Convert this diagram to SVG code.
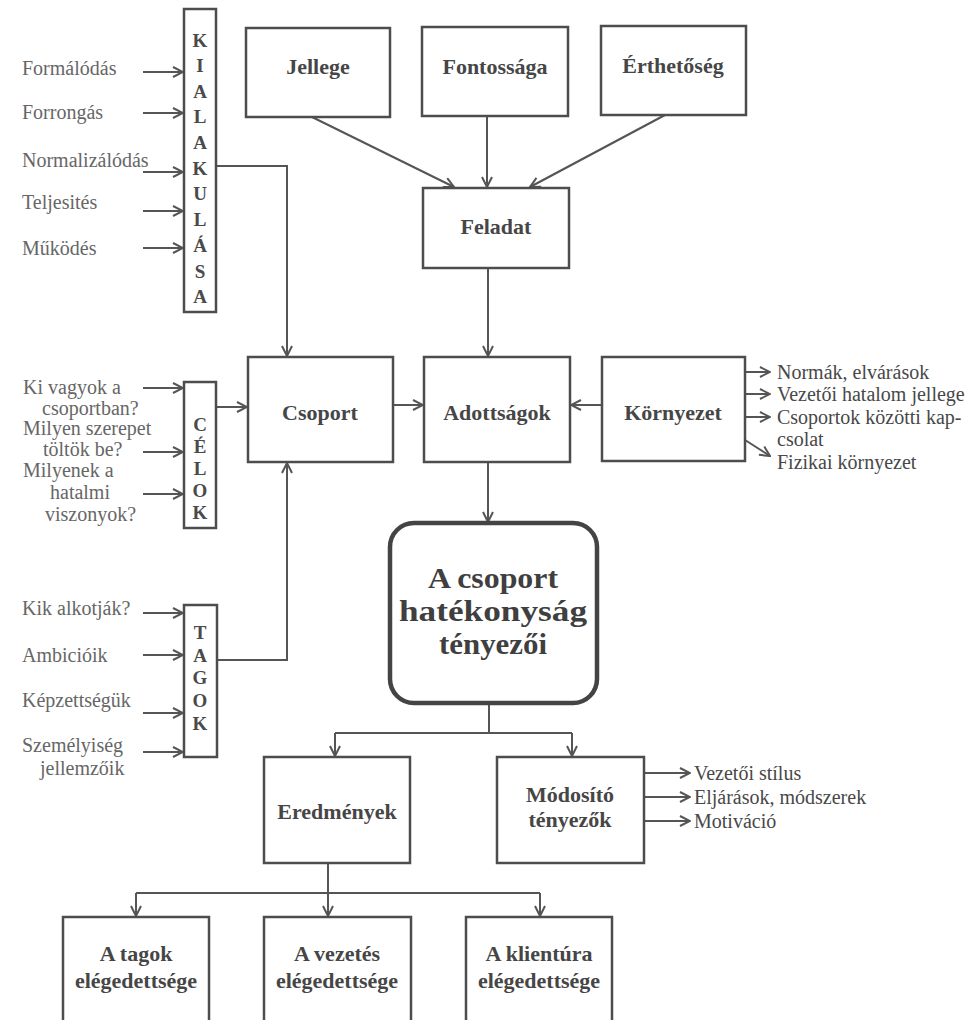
<svg xmlns="http://www.w3.org/2000/svg" width="978" height="1020" viewBox="0 0 978 1020">
<defs>
<style>
.box{fill:none;stroke:#4d4d4d;stroke-width:2.5}
.big{fill:none;stroke:#444;stroke-width:4.5}
.ln{fill:none;stroke:#555;stroke-width:2}
.b{font-family:"Liberation Serif",serif;font-weight:bold;font-size:22px;fill:#464646;text-anchor:middle}
.bb{font-family:"Liberation Serif",serif;font-weight:bold;font-size:29px;fill:#3f3f3f;text-anchor:middle}
.v{font-family:"Liberation Serif",serif;font-weight:bold;font-size:19px;fill:#4a4a4a;text-anchor:middle}
.t{font-family:"Liberation Serif",serif;font-size:20px;fill:#666}
.r{font-family:"Liberation Serif",serif;font-size:20px;fill:#484848}
</style>
<marker id="ah" viewBox="0 0 12 12" refX="11" refY="6" markerWidth="12" markerHeight="12" markerUnits="userSpaceOnUse" orient="auto">
<path d="M1,1 L11,6 L1,11" fill="none" stroke="#555" stroke-width="2"/>
</marker>
</defs>
<rect width="978" height="1020" fill="#fff"/>

<g id="connectors">
<line class="ln" x1="143" y1="72" x2="183" y2="72" marker-end="url(#ah)"/>
<line class="ln" x1="143" y1="113" x2="183" y2="113" marker-end="url(#ah)"/>
<line class="ln" x1="143" y1="172" x2="183" y2="172" marker-end="url(#ah)"/>
<line class="ln" x1="143" y1="211" x2="183" y2="211" marker-end="url(#ah)"/>
<line class="ln" x1="143" y1="248" x2="183" y2="248" marker-end="url(#ah)"/>
<line class="ln" x1="143" y1="388" x2="183" y2="388" marker-end="url(#ah)"/>
<line class="ln" x1="143" y1="452" x2="183" y2="452" marker-end="url(#ah)"/>
<line class="ln" x1="143" y1="494" x2="183" y2="494" marker-end="url(#ah)"/>
<line class="ln" x1="143" y1="613" x2="183" y2="613" marker-end="url(#ah)"/>
<line class="ln" x1="143" y1="655" x2="183" y2="655" marker-end="url(#ah)"/>
<line class="ln" x1="143" y1="713" x2="183" y2="713" marker-end="url(#ah)"/>
<line class="ln" x1="143" y1="752" x2="183" y2="752" marker-end="url(#ah)"/>
<polyline class="ln" points="216,166 287,166 287,356" marker-end="url(#ah)"/>
<line class="ln" x1="216" y1="407" x2="247" y2="407" marker-end="url(#ah)"/>
<polyline class="ln" points="217,660 287,660 287,463" marker-end="url(#ah)"/>
<line class="ln" x1="312" y1="117" x2="454" y2="187" marker-end="url(#ah)"/>
<line class="ln" x1="487" y1="116" x2="487" y2="187" marker-end="url(#ah)"/>
<line class="ln" x1="665" y1="115" x2="530" y2="187" marker-end="url(#ah)"/>
<line class="ln" x1="488" y1="268" x2="488" y2="356" marker-end="url(#ah)"/>
<line class="ln" x1="393" y1="405" x2="423" y2="405" marker-end="url(#ah)"/>
<line class="ln" x1="602" y1="405" x2="571" y2="405" marker-end="url(#ah)"/>
<line class="ln" x1="488" y1="462" x2="488" y2="522" marker-end="url(#ah)"/>
<line class="ln" x1="745" y1="372" x2="770" y2="372" marker-end="url(#ah)"/>
<line class="ln" x1="745" y1="394" x2="770" y2="394" marker-end="url(#ah)"/>
<line class="ln" x1="745" y1="417" x2="770" y2="417" marker-end="url(#ah)"/>
<line class="ln" x1="745" y1="440" x2="770" y2="456" marker-end="url(#ah)"/>
<line class="ln" x1="489" y1="703" x2="489" y2="733"/>
<line class="ln" x1="335" y1="733" x2="572" y2="733"/>
<line class="ln" x1="335" y1="733" x2="335" y2="756" marker-end="url(#ah)"/>
<line class="ln" x1="572" y1="733" x2="572" y2="756" marker-end="url(#ah)"/>
<line class="ln" x1="644" y1="773" x2="690" y2="773" marker-end="url(#ah)"/>
<line class="ln" x1="644" y1="797" x2="690" y2="797" marker-end="url(#ah)"/>
<line class="ln" x1="644" y1="821" x2="690" y2="821" marker-end="url(#ah)"/>
<line class="ln" x1="328" y1="863" x2="328" y2="893"/>
<line class="ln" x1="136" y1="893" x2="540" y2="893"/>
<line class="ln" x1="136" y1="893" x2="136" y2="916" marker-end="url(#ah)"/>
<line class="ln" x1="328" y1="893" x2="328" y2="916" marker-end="url(#ah)"/>
<line class="ln" x1="540" y1="893" x2="540" y2="916" marker-end="url(#ah)"/>
</g>

<g id="labels-left">
<text class="t" x="22" y="75">Formálódás</text>
<text class="t" x="22" y="119">Forrongás</text>
<text class="t" x="22" y="167">Normalizálódás</text>
<text class="t" x="22" y="209">Teljesités</text>
<text class="t" x="22" y="255">Működés</text>
<text class="t" x="23" y="394">Ki vagyok a</text>
<text class="t" x="42" y="415">csoportban?</text>
<text class="t" x="23" y="435">Milyen szerepet</text>
<text class="t" x="43" y="456">töltök be?</text>
<text class="t" x="23" y="477">Milyenek a</text>
<text class="t" x="50" y="499">hatalmi</text>
<text class="t" x="45" y="521">viszonyok?</text>
<text class="t" x="22" y="615">Kik alkotják?</text>
<text class="t" x="22" y="662">Ambicióik</text>
<text class="t" x="22" y="707">Képzettségük</text>
<text class="t" x="22" y="752">Személyiség</text>
<text class="t" x="40" y="775">jellemzőik</text>
</g>

<g id="kialakulasa">
<rect class="box" x="184" y="9" width="32" height="303"/>
<text class="v" x="200" y="47">K</text>
<text class="v" x="200" y="72">I</text>
<text class="v" x="200" y="98">A</text>
<text class="v" x="200" y="123">L</text>
<text class="v" x="200" y="149">A</text>
<text class="v" x="200" y="175">K</text>
<text class="v" x="200" y="200">U</text>
<text class="v" x="200" y="226">L</text>
<text class="v" x="200" y="252">Á</text>
<text class="v" x="200" y="278">S</text>
<text class="v" x="200" y="303">A</text>
</g>

<g id="celok">
<rect class="box" x="184" y="382" width="32" height="146"/>
<text class="v" x="200" y="431">C</text>
<text class="v" x="200" y="453">É</text>
<text class="v" x="200" y="475">L</text>
<text class="v" x="200" y="497">O</text>
<text class="v" x="200" y="519">K</text>
</g>

<g id="tagok">
<rect class="box" x="184" y="605" width="33" height="152"/>
<text class="v" x="200" y="639">T</text>
<text class="v" x="200" y="662">A</text>
<text class="v" x="200" y="684">G</text>
<text class="v" x="200" y="707">O</text>
<text class="v" x="200" y="730">K</text>
</g>

<g id="jellege">
<rect class="box" x="246" y="28" width="144" height="89"/>
<text class="b" x="318" y="74">Jellege</text>
</g>
<g id="fontossaga">
<rect class="box" x="422" y="27" width="146" height="89"/>
<text class="b" x="495" y="74">Fontossága</text>
</g>
<g id="ertheto">
<rect class="box" x="601" y="26" width="145" height="89"/>
<text class="b" x="673" y="73">Érthetőség</text>
</g>
<g id="feladat">
<rect class="box" x="423" y="188" width="146" height="80"/>
<text class="b" x="496" y="234">Feladat</text>
</g>
<g id="csoport">
<rect class="box" x="248" y="357" width="145" height="105"/>
<text class="b" x="320" y="420">Csoport</text>
</g>
<g id="adottsagok">
<rect class="box" x="424" y="357" width="146" height="105"/>
<text class="b" x="497" y="420">Adottságok</text>
</g>
<g id="kornyezet">
<rect class="box" x="602" y="357" width="143" height="104"/>
<text class="b" x="673" y="420">Környezet</text>
</g>
<g id="kornyezet-list">
<text class="r" x="777" y="379">Normák, elvárások</text>
<text class="r" x="777" y="401">Vezetői hatalom jellege</text>
<text class="r" x="777" y="424">Csoportok közötti kap-</text>
<text class="r" x="777" y="446">csolat</text>
<text class="r" x="777" y="469">Fizikai környezet</text>
</g>
<g id="hatekonysag">
<rect class="big" x="390" y="523" width="207" height="180" rx="24"/>
<text class="bb" x="493" y="588" textLength="130" lengthAdjust="spacingAndGlyphs">A csoport</text>
<text class="bb" x="493" y="621" textLength="188" lengthAdjust="spacingAndGlyphs">hatékonyság</text>
<text class="bb" x="493" y="654" textLength="108" lengthAdjust="spacingAndGlyphs">tényezői</text>
</g>
<g id="eredmenyek">
<rect class="box" x="264" y="757" width="146" height="106"/>
<text class="b" x="337" y="819">Eredmények</text>
</g>
<g id="modosito">
<rect class="box" x="497" y="757" width="147" height="106"/>
<text class="b" x="570" y="802">Módosító</text>
<text class="b" x="570" y="827">tényezők</text>
</g>
<g id="modosito-list">
<text class="r" x="694" y="780">Vezetői stílus</text>
<text class="r" x="694" y="804">Eljárások, módszerek</text>
<text class="r" x="694" y="828">Motiváció</text>
</g>
<g id="tagok-eleg">
<rect class="box" x="63" y="917" width="146" height="120"/>
<text class="b" x="136" y="961">A tagok</text>
<text class="b" x="136" y="988">elégedettsége</text>
</g>
<g id="vezetes-eleg">
<rect class="box" x="264" y="917" width="147" height="120"/>
<text class="b" x="337" y="961">A vezetés</text>
<text class="b" x="337" y="988">elégedettsége</text>
</g>
<g id="klientura-eleg">
<rect class="box" x="466" y="917" width="146" height="120"/>
<text class="b" x="539" y="961">A klientúra</text>
<text class="b" x="539" y="988">elégedettsége</text>
</g>
</svg>
